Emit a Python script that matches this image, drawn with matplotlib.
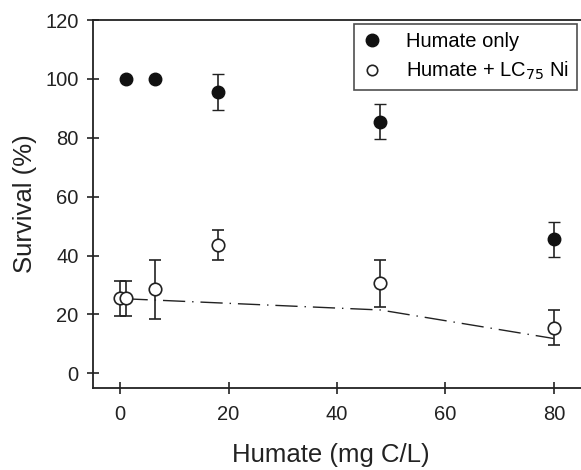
import matplotlib
matplotlib.use("Agg")
import matplotlib.pyplot as plt
from matplotlib.lines import Line2D

plt.rcParams['font.family'] = ['Liberation Sans', 'DejaVu Sans']

# Humate only
x_only = [1, 6.5, 18, 48, 80]
y_only = [100, 100, 95.5, 85.5, 45.5]
e_only = [0, 0, 6, 6, 6]

# Humate + LC75 Ni
x_ni = [0, 1, 6.5, 18, 48, 80]
y_ni = [25.5, 25.5, 28.5, 43.5, 30.5, 15.5]
e_ni = [6, 6, 10, 5, 8, 6]

# model line (dashed)
x_fit = [1, 48, 80]
y_fit = [25.3, 21.5, 11.8]

xticks = [0, 20, 40, 60, 80]
yticks = [0, 20, 40, 60, 80, 100, 120]

C = '#222222'

fig = plt.figure(figsize=(5.81, 4.70), dpi=100)
ax = fig.add_axes([93/581, 1 - 388/470, 1 - 93/581, (388 - 20)/470])

ax.plot(x_fit, y_fit, color=C, lw=1.0, linestyle=(0, (16, 5, 1, 5)), zorder=1)

ax.errorbar(x_ni, y_ni, yerr=e_ni, fmt='o', ms=9, mfc='white', mec=C, mew=1.2,
            ecolor=C, elinewidth=1.2, capsize=4.5, capthick=1.2, zorder=3)
ax.errorbar(x_only, y_only, yerr=e_only, fmt='o', ms=9, mfc='#111111', mec='#111111', mew=1.0,
            ecolor=C, elinewidth=1.2, capsize=4.5, capthick=1.2, zorder=3)

ax.set_xlim(-5, 85)
ax.set_ylim(-5, 120)
ax.set_xticks(xticks)
ax.set_yticks(yticks)
ax.spines['right'].set_visible(False)
for s in ['left', 'bottom', 'top']:
    ax.spines[s].set_linewidth(1.3)
    ax.spines[s].set_color(C)
ax.tick_params(direction='inout', length=8, width=1.2, labelsize=14.5, colors=C,
               labelcolor=C)
ax.tick_params(axis='y', pad=6.5)
ax.tick_params(axis='x', pad=8.5)

ax.set_xlabel('Humate (mg C/L)', fontsize=18.5, color=C)
ax.xaxis.set_label_coords(0.5 - 6/488, -(455 - 388)/368, transform=ax.transAxes)
ax.xaxis.label.set_va('center')
ax.set_ylabel('Survival (%)', fontsize=18.5, color=C, labelpad=6)

handles = [
    Line2D([], [], ls='none', marker='o', ms=9, mfc='#111111', mec='#111111'),
    Line2D([], [], ls='none', marker='o', ms=7.5, mfc='white', mec=C, mew=1.2),
]
labels = ['Humate only', r'Humate + LC$_{75}$ Ni']
leg = ax.legend(handles, labels, loc='upper right', bbox_to_anchor=(577/581, 1 - 24/470),
                bbox_transform=fig.transFigure, fontsize=14.5, frameon=True, fancybox=False,
                edgecolor=C, handlelength=1.0, handletextpad=1.2, borderpad=0.4,
                labelspacing=0.45, borderaxespad=0)
leg.get_frame().set_linewidth(1.2)

fig.savefig('out.png', dpi=100)
